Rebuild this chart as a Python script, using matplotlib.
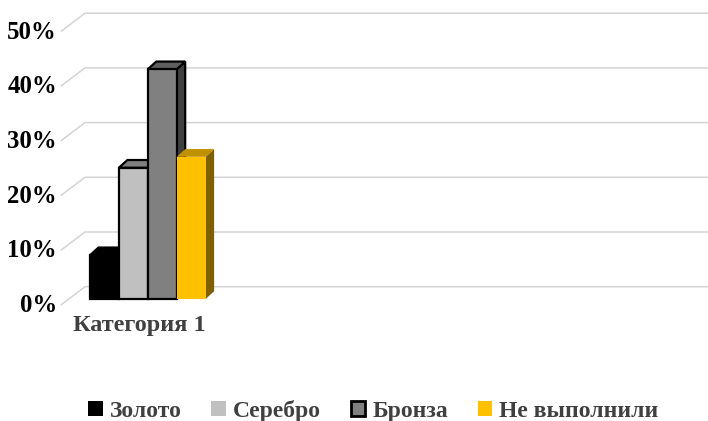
import matplotlib.pyplot as plt
from matplotlib.patches import Polygon, Patch

# shares of participants per result group
series = ['Золото', 'Серебро', 'Бронза', 'Не выполнили']
values = [8, 24, 42, 26]
category = 'Категория 1'
ticks = [0, 10, 20, 30, 40, 50]

front = ['#000000', '#c0c0c0', '#808080', '#ffc000']
top = ['#000000', '#7f7f7f', '#5f5f5f', '#c09000']
side = ['#000000', '#404040', '#404040', '#7f6000']
edges = ['#000000', '#000000', '#000000', 'none']

plt.rcParams['font.family'] = ['Liberation Serif', 'DejaVu Serif']
plt.rcParams['font.weight'] = 'bold'

W, H = 708, 421
fig = plt.figure(figsize=(W / 100, H / 100), dpi=100)
ax = fig.add_axes([0, 0, 1, 1])
ax.axis('off')

# px per unit: one bar = 28.9 px wide, 1% = 5.47 px tall
sx, sy = 28.9, 5.47
x0 = -0.5 - 90 / sx
y0 = 299 / sy
ax.set_xlim(x0, x0 + W / sx)
ax.set_ylim(y0 - H / sy, y0)

def px(x):
    return x0 + x / sx

# back wall gridlines and the slanted floor edges
wall_dy = 12.3 / sy
slant_dy = 18.4 / sy
for t in ticks:
    yb = t + wall_dy
    ax.plot([px(60.7), px(85), px(W)], [yb - slant_dy, yb, yb],
            color='#d4d4d4', lw=1.1, zorder=1, solid_capstyle='butt')
    ax.text(px(57), yb - slant_dy - 0.1, f'{t}%', ha='right', va='center',
            fontsize=17.8, color='#000000')

# bars with a small depth to fake the 3D look
ddx, ddy = 8.5 / sx, 7.7 / sy
for i, v in enumerate(values):
    l, r = i - 0.5, i + 0.5
    lw = 1.6 if edges[i] != 'none' else 0
    ax.add_patch(Polygon([(r, 0), (r, v), (r + ddx, v + ddy), (r + ddx, ddy)],
                         closed=True, facecolor=side[i], edgecolor=edges[i],
                         lw=lw, zorder=2 + 2 * i))
    ax.add_patch(Polygon([(l, v), (r, v), (r + ddx, v + ddy), (l + ddx, v + ddy)],
                         closed=True, facecolor=top[i], edgecolor=edges[i],
                         lw=lw, zorder=2 + 2 * i))
    ax.bar(i, v, width=1, color=front[i], edgecolor=edges[i], lw=lw,
           zorder=3 + 2 * i)

ax.text(px(139), (299 - 326) / sy, category, ha='center', va='center',
        fontsize=17.5, color='#404040')

handles = [Patch(facecolor=front[i],
                 edgecolor='#000000' if i == 2 else front[i],
                 lw=2 if i == 2 else 0) for i in range(len(series))]
leg = fig.legend(handles, series, loc='center', ncol=4, frameon=False,
                 bbox_to_anchor=(373.5 / W, 1 - 411 / H),
                 prop={'size': 17, 'weight': 'bold'},
                 handlelength=0.62, handleheight=0.62, handletextpad=0.3,
                 columnspacing=1.25, labelcolor='#404040')

fig.savefig('out.png', dpi=100)
